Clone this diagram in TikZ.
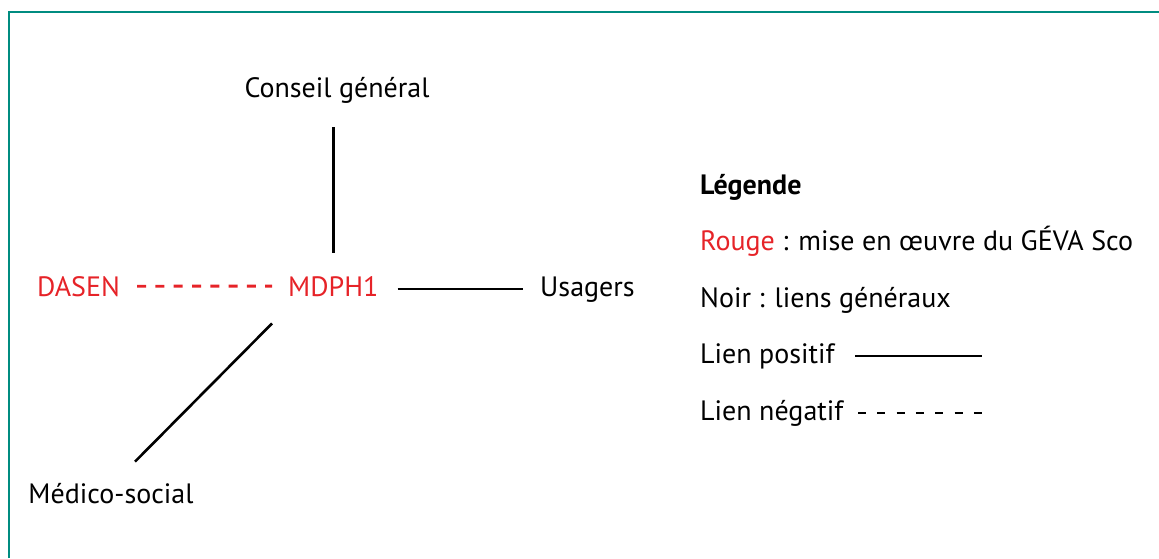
\documentclass[tikz,border=0pt]{standalone}
\usepackage{fontspec}
\setmainfont{PT Sans}
\usepackage{tikz}

\definecolor{cadre}{RGB}{0,140,128}
\definecolor{rouge}{RGB}{230,35,40}

\begin{document}
\begin{tikzpicture}[x=1pt, y=-1pt,
		label_style/.style={inner sep=0pt,font=\fontsize{28}{33}\selectfont},
		red_style/.style={label_style,text=rouge},
		edge_style/.style={draw=black,line width=2.6pt},
		neg_style/.style={draw=rouge,line width=2.9pt,dash pattern=on 9pt off 9.3pt},
		legneg_style/.style={draw=black,line width=2.6pt,dash pattern=on 8pt off 11.3pt}]

		\useasboundingbox (0,0) rectangle (1159,558);
		\draw[cadre,line width=1.6pt] (9,558) -- (9,12) -- (1159,12);

		\node[label_style,anchor=base] (conseil) at (337,97) {Conseil général};
		\node[red_style,anchor=base west] (dasen) at (37,296) {DASEN};
		\node[red_style,anchor=base west] (mdph) at (288,296) {MDPH1};
		\node[label_style,anchor=base west] (usagers) at (540,296) {Usagers};
		\node[label_style,anchor=base] (medico) at (111,503) {Médico-social};

		\node[label_style,anchor=base west,font=\fontsize{28}{33}\selectfont\bfseries] (legende) at (700,194) {Légende};
		\node[label_style,anchor=base west] (rouge) at (700,250) {\textcolor{rouge}{Rouge} : mise en œuvre du GÉVA Sco};
		\node[label_style,anchor=base west] (noir) at (700,307) {Noir : liens généraux};
		\node[label_style,anchor=base west] (lpos) at (700,363) {Lien positif};
		\node[label_style,anchor=base west] (lneg) at (700,420) {Lien négatif};
		\coordinate (pos_start) at (855,0);
		\coordinate (neg_start) at (858,0);
		\coordinate (legend_end) at (982,0);

		\draw[edge_style] (mdph.north |- conseil.south) -- (mdph.north) [shorten <=24pt, shorten >=23pt];
		\draw[neg_style] ([xshift=17pt]dasen.east) -- ([xshift=-16pt]mdph.west);
		\draw[edge_style] ([xshift=19pt,yshift=-3pt]mdph.east) -- ([yshift=-3pt]mdph.east -| usagers.west) [shorten >=17pt];
		\draw[edge_style] ([shift={(-16,27)}]mdph.south west) -- ([shift={(24,-21)}]medico.north);

		\draw[edge_style] (pos_start |- lpos.east) -- (legend_end |- lpos.east);
		\draw[legneg_style] (neg_start |- lneg.east) -- (legend_end |- lneg.east);

		\end{tikzpicture}
\end{document}
